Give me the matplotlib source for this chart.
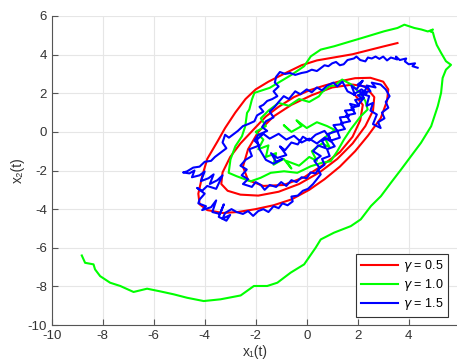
import matplotlib
matplotlib.use('Agg')
import matplotlib.pyplot as plt

plt.rcParams['font.family'] = ['Liberation Sans', 'DejaVu Sans']
plt.rcParams['axes.unicode_minus'] = False

# trajectories (outer end first, winding inward)
red_x = [3.56, 3.0, 2.4, 1.8, 1.1, 0.4, -0.2, -0.9, -1.5, -2.0, -2.4, -2.8, -3.2, -3.5,
         -3.9, -4.1, -4.25, -4.2, -3.9, -3.3, -2.7, -2.0, -1.3, -0.6, 0.1, 0.7, 1.3, 1.9,
         2.4, 2.9, 3.15, 3.2, 3.0, 2.5, 1.9, 1.3, 0.7, 0.1, -0.5, -1.1, -1.6, -2.1, -2.6,
         -3.0, -3.3, -3.35, -3.1, -2.6, -1.9, -1.1, -0.3, 0.5, 1.2, 1.8, 2.3, 2.6, 2.65,
         2.3, 1.8, 1.0, 0.2, -0.6, -1.3, -1.9, -2.3, -2.5, -2.3, -1.7, -0.9, -0.1, 0.6,
         1.3, 1.8, 2.1, 2.2, 1.9]
red_y = [4.6, 4.42, 4.22, 4.02, 3.86, 3.7, 3.45, 3.0, 2.6, 2.2, 1.7, 1.0, 0.2, -0.5,
         -1.4, -2.3, -3.2, -3.75, -4.05, -4.2, -4.15, -4.0, -3.8, -3.5, -3.0, -2.45, -1.8, -1.0,
         -0.2, 0.7, 1.6, 2.2, 2.6, 2.8, 2.78, 2.62, 2.4, 2.15, 1.8, 1.3, 0.8, 0.1, -0.6,
         -1.3, -2.1, -2.7, -3.05, -3.25, -3.3, -3.1, -2.7, -2.1, -1.4, -0.6, 0.3, 1.1, 1.8,
         2.35, 2.45, 2.3, 1.9, 1.4, 0.8, 0.0, -0.9, -1.8, -2.5, -2.8, -2.75, -2.35, -1.75,
         -1.05, -0.25, 0.6, 1.4, 1.9]

green_x = [-8.82, -8.69, -8.36, -8.3, -8.1, -7.71, -7.31, -6.79, -6.26, -5.74, -5.22, -4.69,
           -4.04, -3.38, -2.59, -2.07, -1.55, -1.15, -0.63, -0.1, 0.35, 0.55, 1.07, 1.73,
           2.12, 2.52, 2.91, 3.3, 3.7, 4.09, 4.48, 4.88, 5.14, 5.27, 5.33, 5.46, 5.66, 5.46,
           5.27, 5.1, 5.0, 4.95, 4.85, 4.95, 4.75, 4.5, 4.22, 3.83, 3.56, 3.04, 2.39, 1.73,
           1.07, 0.55, 0.16, -0.1, -0.6, -1.02, -1.45, -2.05, -2.15, -2.25, -2.34, -2.41,
           -2.54, -2.8, -2.99, -3.06, -2.74, -2.2, -1.81, -1.41, -0.89, -0.37, -0.1, 0.16,
           0.6, 0.94, 1.2, 1.46, 1.72, 2.12, 2.39, 2.3, 2.1, 1.75, 1.39, 1.1, 0.88, 0.6, 0.48,
           0.1, -0.3, -0.7, -1.1, -1.5, -1.8, -1.6, -2.0, -1.7, -1.9, -1.5, -1.6, -1.2, -1.3,
           -0.9, -0.6, -0.8, -0.3, 0.1, 0.4, 0.2, 0.6, 0.9, 0.7, 1.1, 0.8, 0.4, 0.0, -0.4,
           -0.2, -0.6, -0.9, -0.7]
green_y = [-6.4, -6.78, -6.86, -7.12, -7.47, -7.81, -7.98, -8.29, -8.12, -8.26, -8.41, -8.59,
           -8.76, -8.67, -8.47, -7.98, -7.98, -7.81, -7.29, -6.86, -6.0, -5.57, -5.22, -4.88,
           -4.53, -3.84, -3.33, -2.64, -1.95, -1.26, -0.57, 0.29, 1.33, 2.02, 2.79, 3.22,
           3.47, 3.66, 4.09, 4.5, 4.9, 5.15, 5.2, 5.3, 5.2, 5.3, 5.38, 5.55, 5.38, 5.21,
           4.95, 4.69, 4.43, 4.26, 3.91, 3.4, 2.95, 2.62, 2.28, 2.02, 1.67, 1.16, 0.98, 0.29,
           -0.23, -0.75, -1.43, -2.12, -2.3, -2.56, -2.38, -2.12, -2.04, -2.12, -1.95, -1.78,
           -1.6, -1.52, -1.0, -0.4, 0.12, 0.81, 1.16, 1.6, 2.0, 2.45, 2.71, 2.4, 2.36, 2.05,
           1.84, 1.55, 1.7, 1.35, 1.5, 1.1, 0.7, 0.3, 0.0, -0.4, -0.9, -0.7, -1.3, -1.1, -1.7,
           -1.4, -1.9, -1.5, -1.75, -1.3, -1.5, -1.0, -0.6, -0.8, -0.3, 0.1, 0.3, 0.5, 0.2,
           0.6, 0.3, 0.0, 0.35, 0.1]

blue_x = [4.35, 4.15, 4.25, 4.0, 3.85, 3.9, 3.65, 3.5, 3.55, 3.3, 3.15, 3.0, 2.85, 2.7,
          2.55, 2.4, 2.3, 2.1, 1.95, 1.85, 1.6, 1.45, 1.3, 1.15, 1.0, 0.85, 0.7, 0.55, 0.4,
          0.2, 0.0, -0.2, -0.45, -0.65, -0.85, -1.05, -1.2, -1.25, -1.1, -1.3, -1.15, -1.35,
          -1.55, -1.7, -1.85, -1.7, -1.95, -2.05, -2.3, -2.5, -2.7, -2.85, -3.05, -3.2, -3.3,
          -3.15, -3.4, -3.6, -3.75, -4.0, -4.2, -4.45, -4.7, -4.85,
          -4.6, -4.4, -4.5, -4.2, -4.0, -4.15, -3.85, -3.65, -3.8, -3.5, -3.3, -3.55, -3.9,
          -4.1, -4.3, -4.0, -4.2,
          -4.25, -3.95, -4.1, -3.75, -3.55, -3.7, -3.4, -3.25, -3.45, -3.15, -3.0, -3.3,
          -3.2, -2.95, -2.75,
          -2.5, -2.3, -2.1, -1.9, -1.7, -1.5, -1.3, -1.1, -0.95, -0.75, -0.55, -0.6, -0.35,
          -0.15, 0.05, 0.25, 0.4, 0.55,
          0.45, 0.7, 0.6, 0.9, 0.8, 1.1, 0.95, 1.3, 1.2, 1.5, 1.35, 1.7, 1.55, 1.9, 1.75,
          2.05, 1.9, 2.25, 2.1, 2.5, 2.35, 2.7, 2.55, 2.9, 3.1, 3.25, 3.1, 3.2, 2.95, 3.05,
          2.8, 2.9, 2.6, 2.75, 2.5, 2.6, 2.35, 2.45, 2.2, 2.35, 2.0, 2.2, 1.95, 1.75, 1.9, 1.6,
          1.4, 1.2, 1.05, 0.8, 0.6, 0.4, 0.2, 0.0, -0.25, -0.45, -0.7, -0.9, -1.1, -1.25,
          -1.45, -1.3, -1.6, -1.75, -1.55, -1.9, -2.05, -1.85, -2.25, -2.15, -2.4, -2.6,
          -2.35, -2.55, -2.3, -2.5,
          -2.15, -2.0, -1.8, -1.65, -1.45, -1.2, -1.0, -0.8, -0.6, -0.4, -0.2, 0.0, 0.15,
          0.35, 0.5,
          0.3, 0.55, 0.25, 0.45, 0.75, 0.6, 0.9, 0.7, 0.35, 0.1, -0.15, -0.35, -0.6, -0.85,
          -1.05, -0.8, -1.15, -1.4, -1.2, -0.95, -1.3, -1.6, -1.85, -1.95, -1.7, -1.45, -1.1,
          -0.8, -0.5, -0.2, 0.1, 0.4,
          0.7, 0.95, 0.85, 1.2, 1.05, 1.4, 1.3, 1.65, 1.5, 1.85, 1.7, 2.0, 2.2, 2.0, 2.35,
          2.15, 1.85]
blue_y = [3.32, 3.4, 3.55, 3.5, 3.65, 3.8, 3.72, 3.9, 3.75, 3.85, 3.7, 3.9, 3.78, 3.9,
          3.8, 3.85, 3.65, 3.72, 3.9, 3.8, 3.72, 3.5, 3.45, 3.62, 3.55, 3.4, 3.45, 3.3, 3.15,
          3.22, 3.1, 3.05, 2.95, 3.05, 3.0, 3.1, 2.85, 2.55, 2.35, 2.1, 1.85, 1.7,
          1.6, 1.4, 1.3, 1.05, 0.85, 0.55, 0.4, 0.3, 0.05, -0.1, -0.3, -0.15, -0.55,
          -0.85, -1.1, -1.3, -1.5, -1.55, -1.8, -1.85, -2.05, -2.1,
          -2.15, -2.0, -2.35, -2.25, -2.05, -2.55, -2.4, -2.2, -2.7, -2.5, -2.25, -2.95, -2.8,
          -3.05, -2.9, -3.2, -3.5,
          -3.7, -3.85, -4.05, -3.9, -3.55, -4.15, -4.25, -3.75, -4.4, -4.6, -4.3, -4.5,
          -4.2, -4.0, -4.15,
          -4.25, -4.1, -4.35, -4.1, -4.0, -4.15, -3.85, -3.95, -3.7, -3.8, -3.6, -3.35, -3.3,
          -3.05, -2.95, -2.7, -2.45, -2.2,
          -1.95, -1.7, -1.4, -1.25, -0.9, -0.75, -0.45, -0.3, 0.05, 0.15, 0.45, 0.55, 0.85,
          0.95, 1.25, 1.35, 1.65, 1.75, 2.05, 2.1, 2.4, 2.3, 2.55, 2.45, 2.2, 1.85, 1.55,
          1.25, 1.0, 0.7, 0.5, 0.2, 0.4, 0.9, 1.1, 1.5, 1.35, 1.85, 1.95, 2.3, 2.45, 2.65,
          2.2, 2.4, 1.9, 2.1,
          2.6, 2.35, 2.55, 2.4, 2.15, 2.3, 2.05, 2.2, 1.95, 2.1, 1.7, 1.85, 1.55, 1.3,
          1.05, 0.75, 0.55, 0.25, 0.05, -0.15, -0.45, -0.7, -0.9, -1.25, -1.45, -1.75,
          -1.95, -2.25, -2.45, -2.7,
          -2.85, -2.6, -2.75, -3.0, -2.75, -2.85, -2.6, -2.8, -2.5, -2.6, -2.35, -2.4, -2.1,
          -2.15, -1.85,
          -1.5, -1.25, -1.0, -0.7, -0.85, -0.45, -0.3, 0.05, -0.15, -0.45, -0.25, -0.65,
          -0.55, -0.95, -0.75, -1.2, -1.35, -1.1, -1.55, -1.4, -1.65, -1.45, -0.9, -0.4,
          -0.1, -0.35, -0.1, -0.4, -0.2, -0.55, -0.35, -0.6,
          -0.3, -0.5, -0.1, 0.05, 0.35, 0.4, 0.75, 0.8, 1.1, 1.15, 1.45, 1.35, 1.7, 1.9, 2.0,
          2.2, 1.95]

labels = ['$\\gamma$ = 0.5', '$\\gamma$ = 1.0', '$\\gamma$ = 1.5']

fig = plt.figure(figsize=(4.57, 3.64), dpi=100)
ax = fig.add_axes([51.7 / 457, 39 / 364, 408 / 457, 309 / 364])

ax.plot(red_x, red_y, color=(1, 0, 0), lw=1.5, label=labels[0])
ax.plot(green_x, green_y, color=(0, 1, 0), lw=1.5, label=labels[1])
ax.plot(blue_x, blue_y, color=(0, 0, 1), lw=1.5, label=labels[2])

ax.set_xlim(-10, 6)
ax.set_ylim(-10, 6)
ax.set_xticks(range(-10, 7, 2))
ax.set_yticks(range(-10, 7, 2))
ax.grid(True, color='#e6e6e6', lw=0.8)
ax.set_axisbelow(True)
for s in ['top', 'right']:
    ax.spines[s].set_visible(False)
for s in ['left', 'bottom']:
    ax.spines[s].set_color('#555555')
    ax.spines[s].set_linewidth(0.8)
ax.tick_params(direction='in', length=4, colors='#555555', labelcolor='#333333',
               labelsize=9.5, width=0.8)

ax.set_xlabel('x\u2081(t)', fontsize=10, color='#333333', labelpad=2)
ax.set_ylabel('x\u2082(t)', fontsize=10, color='#333333', labelpad=2)

leg = ax.legend(loc='lower right', bbox_to_anchor=(0.972, 0.027), borderaxespad=0,
                fancybox=False, edgecolor='#333333', framealpha=1, fontsize=9,
                handlelength=3.0, handletextpad=0.4, borderpad=0.35, labelspacing=0.25)
leg.get_frame().set_linewidth(0.8)

fig.savefig('out.png', dpi=100)
